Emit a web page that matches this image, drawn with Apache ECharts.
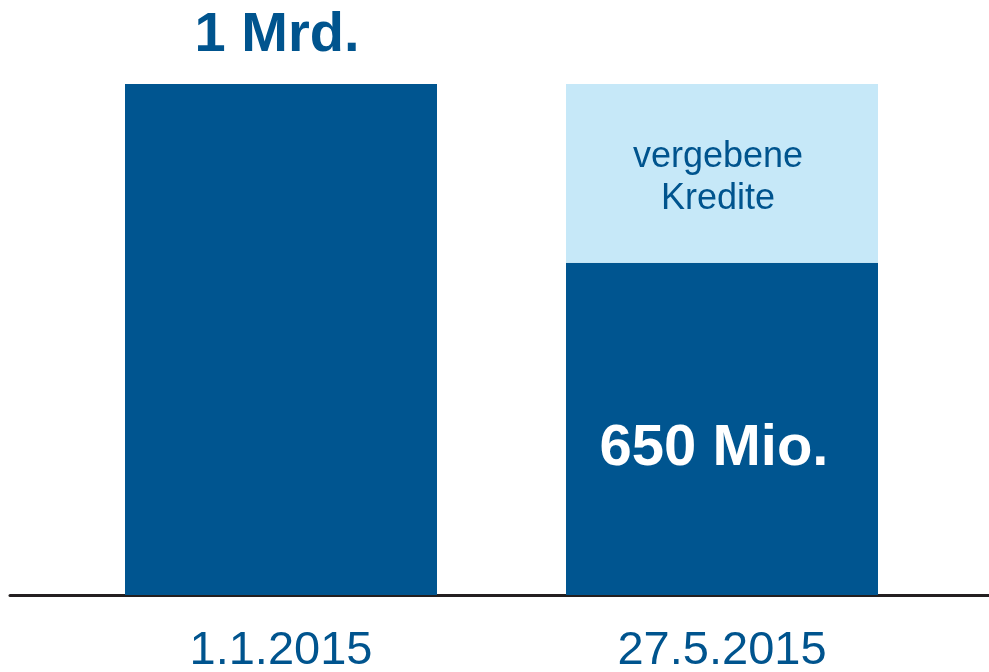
<!DOCTYPE html>
<html>
<head>
<meta charset="utf-8">
<script src="https://cdn.jsdelivr.net/npm/echarts@6/dist/echarts.min.js"></script>
<style>
html,body{margin:0;padding:0;background:#fff;}
#chart{width:989px;height:672px;}
</style>
</head>
<body>
<div id="chart"></div>
<script>
var categories = ['1.1.2015', '27.5.2015'];
var baseValues = [1000, 650];
var creditValues = [0, 350];
var baseLabels = ['1 Mrd.', '650 Mio.'];
var creditLabels = ['', 'vergebene\nKredite'];

var DARK = '#005590';
var LIGHT = '#c6e8f8';
var TEXT = '#00548e';
var FONT = '"Liberation Sans", Arial, sans-serif';

var chart = echarts.init(document.getElementById('chart'));

var baseData = baseValues.map(function (v, i) {
  var item = { value: v };
  if (i === 0) {
    item.label = {
      show: true, position: 'top', distance: 20, offset: [-4, 0],
      formatter: baseLabels[i], color: TEXT, fontSize: 56, lineHeight: 56,
      fontWeight: 'bold', fontFamily: FONT
    };
  } else {
    item.label = {
      show: true, position: 'inside', offset: [-8, 20],
      formatter: baseLabels[i], color: '#ffffff', fontSize: 58, lineHeight: 58,
      fontWeight: 'bold', fontFamily: FONT
    };
  }
  return item;
});

var creditData = creditValues.map(function (v, i) {
  var item = { value: v };
  if (creditLabels[i]) {
    item.label = {
      show: true, position: 'inside', offset: [-4, 5],
      formatter: creditLabels[i], color: TEXT, fontSize: 36, lineHeight: 42,
      fontFamily: FONT
    };
  }
  return item;
});

chart.setOption({
  animation: false,
  backgroundColor: '#ffffff',
  grid: [
    { left: 60.5, right: 46.5, top: 84, bottom: 77, containLabel: false, outerBoundsMode: 'none' },
    { left: 10, right: 0, top: 84, bottom: 77, containLabel: false, outerBoundsMode: 'none' }
  ],
  xAxis: [
    {
      type: 'category', data: categories, gridIndex: 0,
      axisLine: { show: false }, axisTick: { show: false },
      axisLabel: { color: TEXT, fontSize: 47, fontFamily: FONT, margin: 33 }
    },
    {
      type: 'value', gridIndex: 1, min: 0, max: 1,
      axisLine: { show: true, onZero: false, lineStyle: { color: '#231f20', width: 3 } },
      axisTick: { show: false }, axisLabel: { show: false }, splitLine: { show: false }
    }
  ],
  yAxis: [
    {
      type: 'value', gridIndex: 0, min: 0, max: 1000,
      axisLine: { show: false }, axisTick: { show: false },
      axisLabel: { show: false }, splitLine: { show: false }
    },
    {
      type: 'value', gridIndex: 1, min: 0, max: 1, show: false
    }
  ],
  series: [
    {
      type: 'bar', stack: 'total', xAxisIndex: 0, yAxisIndex: 0,
      barWidth: 312, itemStyle: { color: DARK }, data: baseData, z: 3
    },
    {
      type: 'bar', stack: 'total', xAxisIndex: 0, yAxisIndex: 0,
      barWidth: 312, itemStyle: { color: LIGHT }, data: creditData, z: 3
    }
  ]
});
</script>
</body>
</html>
